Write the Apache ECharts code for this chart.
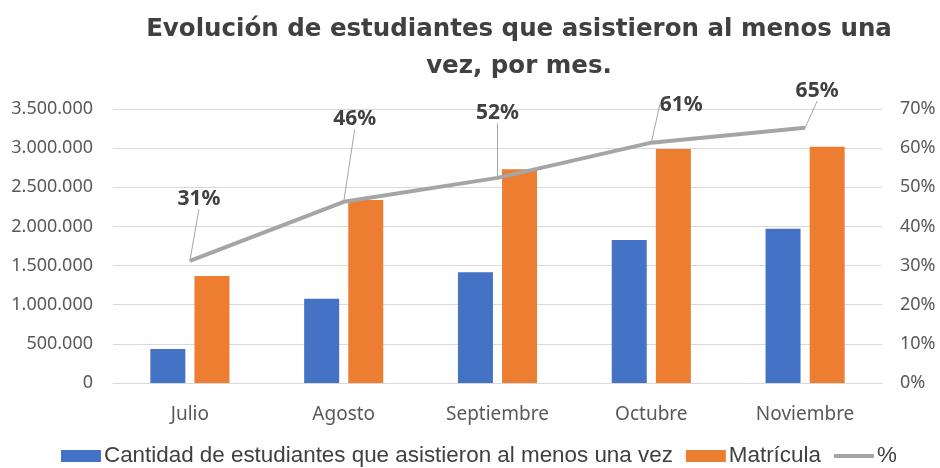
<!DOCTYPE html>
<html>
<head>
<meta charset="utf-8">
<script src="https://cdn.jsdelivr.net/npm/echarts@6/dist/echarts.min.js"></script>
<style>
  html, body { margin: 0; padding: 0; background: #fff; }
  #chart { width: 940px; height: 468px; }
</style>
</head>
<body>
<div id="chart"></div>
<script>
  // datos
  const meses = ['Julio', 'Agosto', 'Septiembre', 'Octubre', 'Noviembre'];
  const asistieron = [434000, 1077000, 1414000, 1827000, 1971000];
  const matricula = [1367000, 2338000, 2730000, 2989000, 3018000];
  const porcentaje = [0.312, 0.463, 0.524, 0.614, 0.652];

  // desplazamiento de las etiquetas del %
  const labelShift = [[9, -46], [11, -67], [0, -49], [30, -22], [12, -21]];

  const fmtMiles = v => String(v).replace(/\B(?=(\d{3})+(?!\d))/g, '.');

  let myChart = echarts.init(document.getElementById('chart'));

  let option = {
    animation: false,
    title: {
      text: 'Evolución de estudiantes que asistieron al menos una\nvez, por mes.',
      left: 514,
      top: 6,
      textAlign: 'center',
      textStyle: {
        fontFamily: 'DejaVu Sans',
        fontWeight: 'bold',
        fontSize: 24.5,
        lineHeight: 37,
        color: '#404040'
      }
    },
    legend: {
      bottom: -4,
      left: 56,
      itemWidth: 40,
      itemHeight: 12,
      itemGap: 13,
      textStyle: {
        fontFamily: 'Liberation Sans',
        fontSize: 22.4,
        color: '#404040',
        padding: [0, 0, 0, -2]
      },
      data: [
        { name: 'Cantidad de estudiantes que asistieron al menos una vez', icon: 'rect' },
        { name: 'Matrícula', icon: 'rect' },
        { name: '%', icon: 'path://M0,0 L40,0 L40,4 L0,4 Z', itemStyle: { color: '#A5A5A5' } }
      ]
    },
    grid: {
      left: 113,
      right: 58,
      top: 109,
      bottom: 85
    },
    xAxis: {
      type: 'category',
      data: meses,
      axisLine: { lineStyle: { color: '#d9d9d9', width: 1 } },
      axisTick: { show: false },
      axisLabel: {
        fontFamily: 'Noto Sans',
        fontSize: 19,
        color: '#595959',
        margin: 22
      }
    },
    yAxis: [
      {
        type: 'value',
        min: 0,
        max: 3500000,
        interval: 500000,
        axisLine: { show: false },
        axisTick: { show: false },
        axisLabel: {
          fontFamily: 'Noto Sans',
          fontSize: 18,
          color: '#595959',
          margin: 20,
          formatter: fmtMiles
        },
        splitLine: { lineStyle: { color: '#d9d9d9', width: 1 } }
      },
      {
        type: 'value',
        min: 0,
        max: 0.7,
        interval: 0.1,
        axisLine: { show: false },
        axisTick: { show: false },
        splitLine: { show: false },
        axisLabel: {
          fontFamily: 'Noto Sans',
          fontSize: 18,
          color: '#595959',
          margin: 18,
          formatter: v => Math.round(v * 100) + '%'
        }
      }
    ],
    series: [
      {
        name: 'Cantidad de estudiantes que asistieron al menos una vez',
        type: 'bar',
        barWidth: 35,
        barGap: '26%',
        itemStyle: { color: '#4472C4' },
        data: asistieron
      },
      {
        name: 'Matrícula',
        type: 'bar',
        barWidth: 35,
        itemStyle: { color: '#ED7D31' },
        data: matricula
      },
      {
        name: '%',
        type: 'line',
        yAxisIndex: 1,
        symbol: 'circle',
        symbolSize: 1,
        showSymbol: true,
        lineStyle: { color: '#A5A5A5', width: 4 },
        itemStyle: { color: '#A5A5A5' },
        label: {
          show: true,
          position: 'top',
          distance: 5,
          fontFamily: 'Noto Sans',
          fontWeight: 'bold',
          fontSize: 21,
          color: '#404040',
          formatter: p => Math.round(p.value * 100) + '%'
        },
        labelLine: {
          show: true,
          lineStyle: { color: '#A5A5A5', width: 1 }
        },
        labelLayout: p => ({
          dx: labelShift[p.dataIndex][0],
          dy: labelShift[p.dataIndex][1]
        }),
        data: porcentaje
      }
    ]
  };

  myChart.setOption(option);
</script>
</body>
</html>
